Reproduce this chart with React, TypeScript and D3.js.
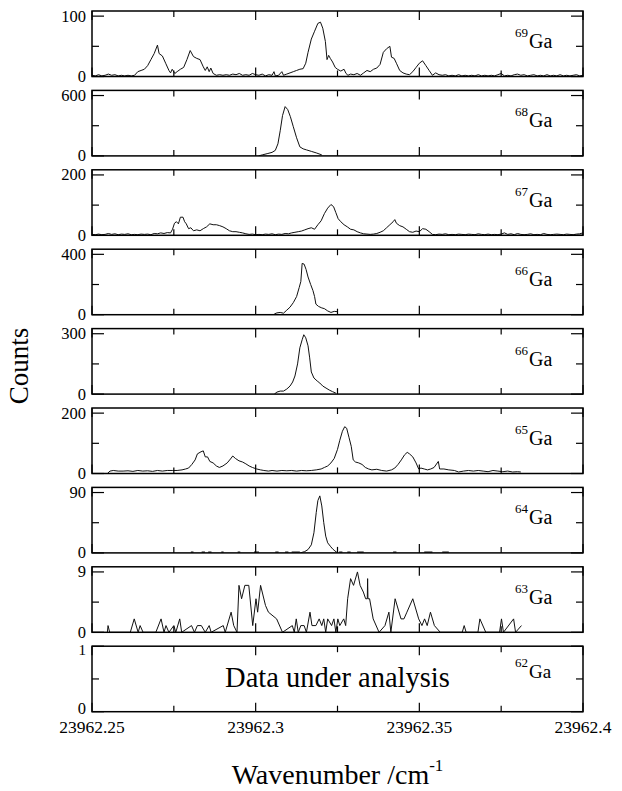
import React from "react";
import * as d3 from "d3";

// x values are offsets from 23962.25 cm^-1 in units of 0.001 cm^-1
const X_BASE = 23962.25;
const xTickValues = [23962.25, 23962.275, 23962.3, 23962.325, 23962.35, 23962.375, 23962.4];
const xTickLabels = ["23962.25", "", "23962.3", "", "23962.35", "", "23962.4"];

const isotopes = ["69", "68", "67", "66", "66", "65", "64", "63", "62"];
const yTickMax = [100, 600, 200, 400, 300, 200, 90, 9, 1];

const ga69: [number, number][] = [
  [0,2],[1,1],[2,3],[3,1],[4,2],[5,4],[6,2],[7,3],[8,1],[9,2],[10,1],[11,2],[12,1],[13,2],[14,8],[15,10],[16,12],[17,18],[18,28],[19,38],[20,52],[20.5,38],[21.5,34],[22.5,22],[23.5,10],[24,6],[24.5,12],[25.3,5],[26,8],[27,12],[28,15],[29,28],[30,43],[31,33],[32,30],[33,28],[34,16],[34.6,10],[35.2,16],[35.8,8],[36.3,14],[37,5],[38,2],[39,3],[40,2],[41,3],[42,2],[43,4],[44,3],[45,5],[46,2],[47,3],[48,2],[49,5],[50,3],[51,2],[52,4],[53,1],[54,3],[55,2],[55.6,8],[56,1],[57,2],[58,8],[58.5,2],[59.5,4],[60.5,6],[61.5,8],[62.5,10],[63.5,12],[64.5,13],[65.3,22],[66,40],[67,62],[68,75],[69,88],[69.8,90],[70.5,80],[71.3,58],[71.8,28],[72.3,35],[72.8,30],[73.5,24],[74.3,15],[75,12],[76,9],[77,12],[77.6,5],[78.2,2],[79,4],[80,3],[81,5],[82,2],[83,6],[84,10],[85,8],[86,12],[87,14],[88,20],[89,40],[90,46],[91,50],[91.5,32],[92.3,30],[93,22],[94,10],[95,6],[96,4],[97,3],[98,8],[99,15],[100,22],[101,26],[102,18],[103,10],[104,2],[105,6],[106,3],[107,2],[108,3],[109,1],[110,2],[111,1],[112,3],[113,1],[114,2],[115,1],[116,2],[117,1],[118,3],[119,1],[120,2],[121,1],[122,2],[123,1],[124,3],[125,5],[126,1],[127,2],[128,1],[129,3],[130,4],[131,2],[132,3],[133,1],[134,2],[135,3],[136,1],[137,2],[138,1],[139,3],[140,1],[141,2],[142,1],[143,3],[144,1],[145,2],[146,1],[147,2],[148,3],[149,1],[150,2]
];

const ga68: [number, number][] = [
  [50.9,0],[52,10],[53.5,22],[55,35],[56,55],[56.8,120],[57.5,250],[58.2,400],[59,490],[59.8,460],[60.6,390],[61.5,290],[62.5,180],[63.5,90],[64.5,70],[65.5,60],[67,45],[68.5,30],[70.2,10]
];

const ga67: [number, number][] = [
  [0,3],[1,2],[2,4],[3,2],[4,3],[5,6],[6,3],[7,5],[8,2],[9,4],[10,3],[11,5],[12,2],[13,3],[14,2],[15,4],[16,3],[17,4],[18,2],[19,6],[20,5],[21,8],[22,6],[23,9],[24,8],[24.6,20],[25.2,40],[25.8,45],[26.4,38],[27,60],[27.8,60],[28.3,45],[28.8,38],[29.5,22],[30.2,25],[31,15],[32,18],[33,15],[34,22],[35,28],[36,38],[37,35],[38,35],[39,32],[40,28],[41,22],[42,15],[43,12],[44,12],[45,10],[46,8],[47,5],[48,3],[49,4],[50,2],[51,3],[52,2],[53,4],[54,3],[55,5],[56,2],[57,4],[58,3],[59,6],[60,5],[61,8],[62,10],[63,12],[64,14],[65,18],[66,22],[67,25],[68,20],[69,35],[70,48],[71,72],[72,90],[73,102],[73.8,95],[74.5,75],[75.2,55],[76,45],[77,35],[78,28],[79,20],[80,18],[81,12],[82,8],[83,5],[84,4],[85,3],[86,4],[87,6],[88,10],[89,15],[90,25],[91,35],[92,45],[92.5,52],[93,40],[94,32],[95,28],[96,20],[97,12],[98,10],[99,14],[100,12],[101,22],[102,20],[103,12],[104,3],[105,2],[106,4],[107,3],[108,5],[109,2],[110,3],[111,2],[112,4],[113,3],[114,2],[115,4],[116,3],[117,2],[118,5],[119,3],[120,2],[121,4],[122,2],[123,3],[124,2],[125,4],[126,8],[127,3],[128,5],[129,2],[130,6],[131,3],[132,2],[133,3],[134,5],[135,2],[136,3],[137,2],[138,6],[139,3],[140,2],[141,3],[142,4],[143,3],[144,2],[145,4],[146,3],[147,2],[148,4],[149,5],[150,8]
];

const ga66a: [number, number][] = [
  [55.7,5],[56.5,12],[57.5,15],[58.5,10],[59.5,30],[60.5,50],[61.5,80],[62.5,120],[63.3,180],[63.8,220],[64.2,340],[64.8,335],[65.4,300],[66,250],[66.8,200],[67.5,160],[68,120],[68.4,70],[69.2,55],[70.2,45],[71,40],[72,25],[73,15],[74,22],[75,20]
];

const ga66b: [number, number][] = [
  [55.7,0],[56.5,10],[57.5,15],[58.5,15],[59.5,25],[60.5,40],[61.3,60],[62,90],[62.8,150],[63.5,230],[64.2,270],[64.7,295],[65.3,280],[66,240],[66.5,180],[67,110],[67.8,80],[68.8,65],[69.6,55],[70.5,40],[71.5,30],[72.5,20],[73.5,12],[74.5,5]
];

const ga65: [number, number][] = [
  [4.7,0],[5.5,8],[6.5,10],[8,8],[9.5,8],[11,9],[12.5,7],[14,10],[15.5,8],[17,9],[18.5,7],[20,10],[21.5,8],[23,10],[24.5,10],[26,10],[27.5,12],[28.6,15],[29.5,18],[30.5,30],[31.5,45],[32.2,65],[33.3,72],[34,75],[34.6,55],[35.3,55],[36,40],[37,35],[38,25],[38.9,20],[40,25],[41.3,35],[42.3,48],[43,58],[43.8,50],[44.9,42],[46,38],[47,32],[48,25],[49,20],[50.3,15],[51.5,12],[52.5,10],[53.9,8],[55,10],[56.5,8],[58,10],[59.5,9],[61,10],[62.5,8],[64,10],[65.5,9],[67,10],[68.5,12],[70,15],[71,20],[72,25],[73,35],[74,50],[75,80],[75.7,110],[76.5,140],[77.2,155],[77.8,150],[78.5,120],[79.2,90],[79.8,45],[80.5,38],[81.5,35],[82.5,30],[83.5,20],[84.5,15],[85.5,12],[87,14],[88.5,10],[90,8],[91.5,12],[92.5,18],[93.5,30],[94.5,45],[95.5,62],[96.3,70],[97,65],[98,55],[99,35],[99.8,15],[100.5,18],[101.5,15],[102.5,12],[103.5,15],[104.5,20],[105.8,40],[106.2,15],[107.5,15],[109,12],[110.7,10],[112,5],[113.5,8],[115,10],[116.5,8],[118,10],[119.5,8],[121,6],[122.5,10],[124,8],[125.5,6],[127,8],[128.5,5],[130,6],[131,5]
];

const ga64: [number, number][] = [
  [63.6,0],[65,2],[66,5],[67,12],[67.8,30],[68.5,60],[69,78],[69.6,85],[70.2,70],[70.8,45],[71.4,25],[72,15],[72.8,10],[73.5,6],[74.2,3],[75,0]
];
// short zero-count segments drawn at the baseline (start, end offsets)
const ga64ZeroRuns: [number, number][] = [
  [30.2,31],[33.5,34.5],[35.5,36.5],[39.5,40.2],[44.5,45.3],[49.5,51],[56,57],[59,60],[61,63.5],[75.5,76.5],[78,79],[81,83],[92,93],[101.5,104],[107,109]
];

const ga63: [number, number][] = [
  [4.7,0],[4.9,1],[5.4,0],[11.7,0],[12.9,2],[14.1,0],[14.7,1],[15.6,0],[19.5,0],[21.1,2],[22,0],[22.6,1],[23.5,0],[25,1],[25.6,0],[26.8,2],[27.4,0],[30.4,1],[31.3,0],[32.2,1],[33.4,1],[34.6,0],[35.8,1],[36.4,0],[40.1,1],[40.7,0],[42.5,3],[43.3,1],[44.3,0],[44.9,7],[45.7,5],[46.7,7],[47.9,7],[49.1,1],[50.1,5],[50.6,3],[51.5,7],[53,4],[53.9,3],[56.4,2],[58.2,0],[61.2,1],[61.8,0],[62.4,2],[63,0],[63.8,1],[64.8,1],[65.5,0],[66.6,3],[67.2,1],[68.4,1],[69.4,2],[70.2,1],[70.8,2],[71.4,0],[72,2],[73.2,1],[73.9,2],[74.5,0],[75.1,2],[75.7,1],[76.9,2],[77.5,1],[78.1,5],[79,8],[79.9,7],[81.1,9],[81.9,7],[82.9,6],[83.6,5],[84.1,5],[84.2,8],[84.3,5],[84.8,5],[85.9,2],[87.7,0],[89.5,1],[90.7,3],[91.3,0],[92.6,5],[94.4,2],[95.3,2],[96.2,3],[98,5],[99.8,2],[100.8,1],[101.6,2],[102.4,1],[103.4,3],[104.6,1],[106.4,0],[113.1,0],[113.7,1],[114.3,0],[117.9,0],[118.5,2],[120.3,0],[124.5,0],[125.1,2],[125.7,0],[128.8,2],[129.4,0],[131.2,1]
];

const ga62: [number, number][] = [];

const series = [ga69, ga68, ga67, ga66a, ga66b, ga65, ga64, ga63, ga62];

const W = 622;
const H = 791;
const PLOT_L = 92;
const PLOT_R = 583;
const TOP0 = 11;
const PITCH = 79.4;
const PANEL_H = 65.5;
const FONT = "Liberation Serif, DejaVu Serif, serif";

export default function App() {
  const x = d3.scaleLinear().domain([23962.25, 23962.4]).range([PLOT_L, PLOT_R]);
  const txt = { fontFamily: FONT };

  return (
    <svg width={W} height={H} style={{ position: "absolute", left: 0, top: 0, fontFamily: FONT }}>
      <rect width={W} height={H} fill="#fff" />
      {series.map((data, i) => {
        const top = TOP0 + i * PITCH;
        const bottom = top + PANEL_H;
        const tmax = yTickMax[i];
        const isLast = i === series.length - 1;
        const yMax = isLast ? tmax : tmax * 1.085;
        const y = d3.scaleLinear().domain([0, yMax]).range([bottom, top]);
        const line = d3
          .line<[number, number]>()
          .x((d) => x(X_BASE + d[0] / 1000))
          .y((d) => y(d[1]));
        const yTicks = [0, tmax / 2, tmax];
        return (
          <g key={i}>
            <defs>
              <clipPath id={`clip${i}`}>
                <rect x={PLOT_L} y={top} width={PLOT_R - PLOT_L} height={PANEL_H} />
              </clipPath>
            </defs>
            {data.length > 0 && (
              <path d={line(data) || ""} fill="none" stroke="#111" strokeWidth={1} clipPath={`url(#clip${i})`} />
            )}
            {i === 6 &&
              ga64ZeroRuns.map((r, k) => (
                <line
                  key={k}
                  x1={x(X_BASE + r[0] / 1000)}
                  x2={x(X_BASE + r[1] / 1000)}
                  y1={y(1.2)}
                  y2={y(1.2)}
                  stroke="#111"
                  strokeWidth={1.2}
                />
              ))}
            {xTickValues.map((v, k) => {
              const len = k % 2 === 0 ? 9 : 6;
              const xx = x(v);
              return (
                <g key={k}>
                  <line x1={xx} x2={xx} y1={top} y2={top + len} stroke="#000" strokeWidth={1.2} />
                  <line x1={xx} x2={xx} y1={bottom} y2={bottom - len} stroke="#000" strokeWidth={1.2} />
                </g>
              );
            })}
            {yTicks.map((v, k) => {
              const len = k === 1 ? 7 : 12;
              const yy = y(v);
              return (
                <g key={k}>
                  <line x1={PLOT_L} x2={PLOT_L + len} y1={yy} y2={yy} stroke="#000" strokeWidth={1.2} />
                  <line x1={PLOT_R} x2={PLOT_R - len} y1={yy} y2={yy} stroke="#000" strokeWidth={1.2} />
                </g>
              );
            })}
            {[0, tmax].map((v, k) => {
              let yy = y(v) + 5.5;
              let fs = 16.5;
              if (isLast && v === 0) yy -= 3;
              if (isLast && v === tmax) {
                yy += 3.5;
                fs = 15;
              }
              return (
                <text key={k} x={PLOT_L - 6} y={yy} textAnchor="end" fontSize={fs} style={txt}>
                  {v}
                </text>
              );
            })}
            <rect
              x={PLOT_L}
              y={top}
              width={PLOT_R - PLOT_L}
              height={PANEL_H}
              fill="none"
              stroke="#000"
              strokeWidth={1.5}
            />
            <text x={515} y={top + (isLast ? 32 : 37)} fontSize={isLast ? 19 : 20} style={txt}>
              <tspan fontSize={13} dy={-11}>
                {isotopes[i]}
              </tspan>
              <tspan dy={11} dx={1}>
                Ga
              </tspan>
            </text>
            {isLast && (
              <>
                <text x={(PLOT_L + PLOT_R) / 2} y={687} textAnchor="middle" fontSize={28.5} style={txt}>
                  Data under analysis
                </text>
                {xTickValues.map((v, k) =>
                  xTickLabels[k] ? (
                    <text key={k} x={x(v)} y={733} textAnchor="middle" fontSize={17.5} style={txt}>
                      {xTickLabels[k]}
                    </text>
                  ) : null
                )}
              </>
            )}
          </g>
        );
      })}
      <text transform="translate(28,366) rotate(-90)" textAnchor="middle" fontSize={27} style={txt}>
        Counts
      </text>
      <text x={(PLOT_L + PLOT_R) / 2} y={784} textAnchor="middle" fontSize={28} style={txt}>
        Wavenumber /cm
        <tspan dy={-13} fontSize={17}>
          -1
        </tspan>
      </text>
    </svg>
  );
}
